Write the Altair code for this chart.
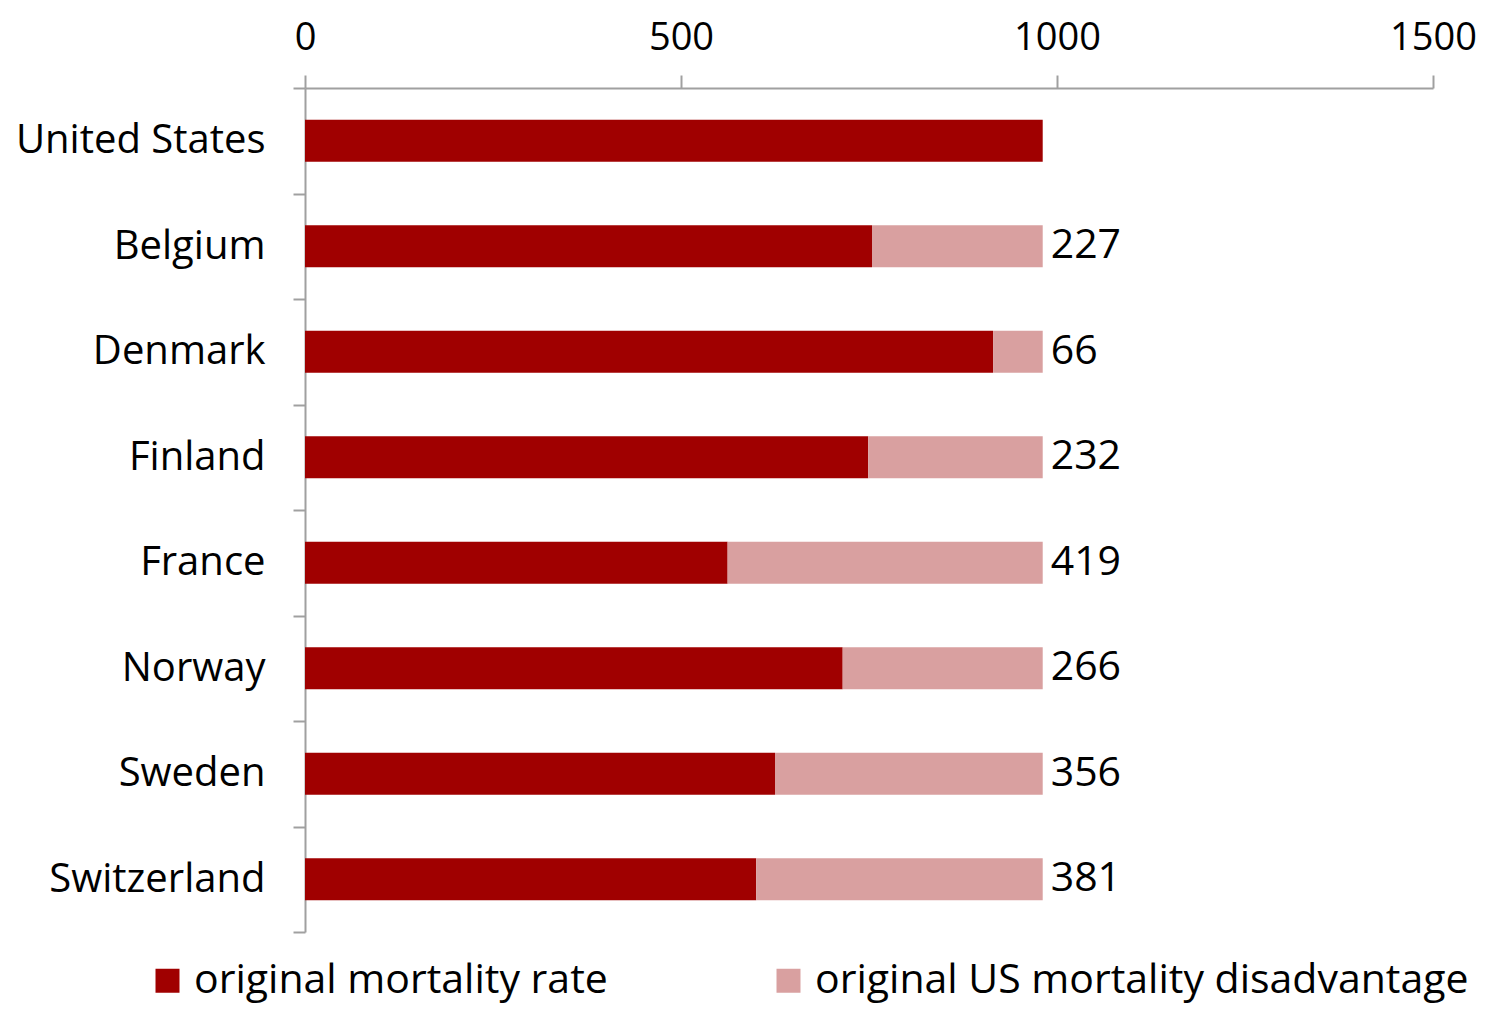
import altair as alt
import pandas as pd

countries = ["United States", "Belgium", "Denmark", "Finland", "France", "Norway", "Sweden", "Switzerland"]
rate = [981, 754, 915, 749, 562, 715, 625, 600]
disadvantage = [0, 227, 66, 232, 419, 266, 356, 381]
series = ["original mortality rate", "original US mortality disadvantage"]
colors = ["#A00000", "#D9A0A0"]
x_ticks = [0, 500, 1000, 1500]

rows = []
for c, r, d in zip(countries, rate, disadvantage):
    rows.append({"country": c, "series": series[0], "value": r, "order": 0})
    rows.append({"country": c, "series": series[1], "value": d, "order": 1})
df = pd.DataFrame(rows)

lab = pd.DataFrame({
    "country": countries,
    "total": [r + d for r, d in zip(rate, disadvantage)],
    "label": ["" if d == 0 else str(d) for d in disadvantage],
})

FONT = "Open Sans"
GRAY = "#A0A0A0"

y_enc = alt.Y("country:N", sort=countries, title=None,
              scale=alt.Scale(paddingInner=0, paddingOuter=0),
              axis=alt.Axis(orient="left", domainColor=GRAY, domainWidth=2,
                            tickColor=GRAY, tickWidth=2, tickSize=12, tickBand="extent",
                            labelFontSize=40, labelColor="black", labelFont=FONT,
                            labelPadding=28, labelLimit=400))

bars = alt.Chart(df).mark_bar(size=42).encode(
    x=alt.X("value:Q", stack="zero", title=None,
            scale=alt.Scale(domain=[0, 1500], nice=False),
            axis=alt.Axis(orient="top", values=x_ticks, grid=False, format="d",
                          domainColor=GRAY, domainWidth=2, tickColor=GRAY, tickWidth=2,
                          tickSize=13, labelFontSize=38, labelColor="black",
                          labelFont=FONT, labelPadding=18, labelFlush=False)),
    y=y_enc,
    color=alt.Color("series:N", sort=series,
                    scale=alt.Scale(domain=series, range=colors),
                    legend=alt.Legend(title=None, orient="none", direction="horizontal",
                                      legendX=-158, legendY=872,
                                      symbolType="square", symbolSize=576,
                                      symbolStrokeWidth=0,
                                      labelFontSize=41, labelFont=FONT, labelColor="black",
                                      labelLimit=1000, columnPadding=160, labelOffset=6)),
    order=alt.Order("order:Q"),
)

text = alt.Chart(lab).mark_text(align="left", baseline="middle", dx=8,
                                fontSize=41, font=FONT, color="black").encode(
    x=alt.X("total:Q"),
    y=alt.Y("country:N", sort=countries),
    text="label:N",
)

chart = alt.layer(bars, text).properties(
    width=1128, height=844,
    autosize=alt.AutoSizeParams(type="none"),
    padding={"left": 297, "top": 80, "right": 50, "bottom": 77},
).configure_view(stroke=None)

chart.save("out.html", embed_options={"renderer": "svg", "actions": False})
